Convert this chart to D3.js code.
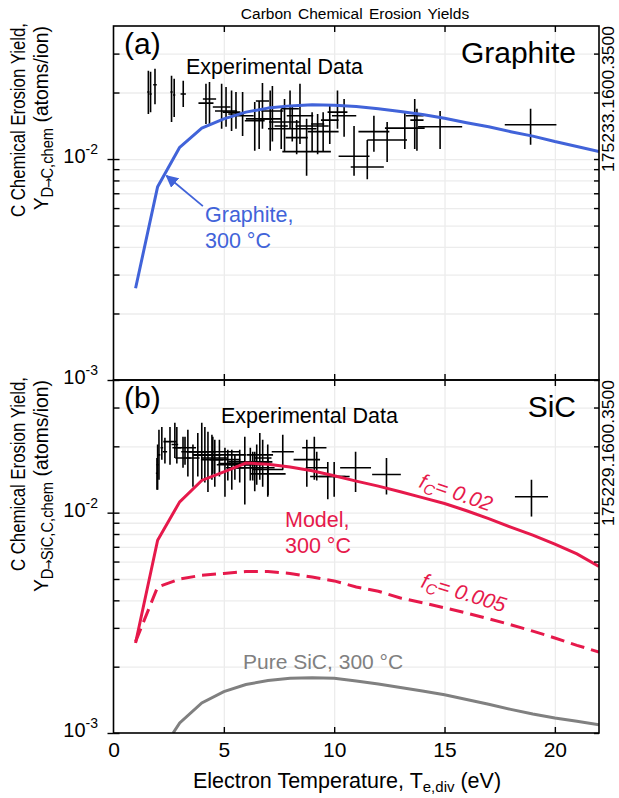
<!DOCTYPE html>
<html><head><meta charset="utf-8">
<script src="https://cdn.jsdelivr.net/npm/d3@7"></script>
<style>body{margin:0;background:#fff} svg{display:block;font-family:"Liberation Sans",Arial,sans-serif}</style>
</head><body>
<svg id="c" width="619" height="798"></svg>
<script>
// ---------------- data ----------------
const modelT = [1,2,3,4,5,6,7,8,9,10,11,12,13,14,15,16,17,18,19,20,21,22];
const graphiteModel = [0.0026,0.0075,0.0113,0.0138,0.0152,0.0163,0.0170,0.0174,0.0176,0.0175,0.0173,0.0169,0.0164,0.0159,0.0153,0.0146,0.0140,0.0133,0.0127,0.0120,0.0114,0.0108];
const sicModel002 = [0.00256,0.0075,0.0112,0.0140,0.0153,0.0168,0.0166,0.0161,0.0155,0.0147,0.0139,0.0132,0.01245,0.0117,0.0110,0.0102,0.0094,0.0086,0.0079,0.0072,0.0065,0.0057];
const sicModel0005 = [0.0026,0.0046,0.0050,0.0052,0.0053,0.0054,0.0054,0.0053,0.0051,0.0049,0.0046,0.0044,0.0041,0.0039,0.0037,0.0035,0.0033,0.0031,0.0029,0.0027,0.0025,0.00233];
const pureSiCT = [2.7,3,4,5,6,7,8,9,10,11,12,13,14,15,16,17,18,19,20,21,22];
const pureSiCModel = [0.00100,0.00111,0.00137,0.00154,0.00166,0.00173,0.00177,0.00178,0.00177,0.00172,0.00167,0.00161,0.00155,0.00149,0.00142,0.00135,0.00128,0.00122,0.00117,0.00113,0.00109];

// experimental points: [Te, dTe, Y, Ylow, Yhigh]
const graphiteExp = [
 [1.58,0.05,0.0201,0.0160,0.0251],[1.68,0.05,0.0197,0.0163,0.0248],[1.88,0.08,0.0217,0.0177,0.0256],
 [2.63,0.05,0.0201,0.0147,0.0238],[2.75,0.05,0.0195,0.0155,0.0231],[3.16,0.12,0.0197,0.0172,0.0226],
 [4.19,0.34,0.0179,0.0144,0.0219],[4.35,0.30,0.0187,0.0141,0.0223],[4.9,0.4,0.0172,0.0137,0.0219],
 [5.1,0.5,0.0165,0.0140,0.0212],[5.35,0.4,0.0163,0.0134,0.0204],[5.55,0.35,0.0160,0.0137,0.0201],
 [5.85,0.5,0.0157,0.0127,0.0201],[6.4,0.45,0.0149,0.0109,0.0181],[6.6,0.6,0.0152,0.0111,0.0183],
 [6.75,0.3,0.0183,0.0137,0.0221],[7.1,0.5,0.0152,0.0109,0.0204],[7.2,0.5,0.0165,0.0120,0.0214],
 [7.6,0.3,0.0141,0.0111,0.0169],[7.75,0.7,0.0147,0.0108,0.0187],[8.0,0.4,0.0169,0.0137,0.0204],
 [8.1,1.1,0.0137,0.0120,0.0174],[8.3,0.5,0.0125,0.0105,0.0150],[8.45,0.6,0.0157,0.0117,0.0219],
 [8.75,1.1,0.0108,0.0084,0.0152],[9.0,0.75,0.0141,0.0108,0.0163],[9.25,0.3,0.0144,0.0105,0.0160],
 [9.5,0.7,0.0133,0.0108,0.0163],[9.8,0.4,0.0150,0.0117,0.0174],[10.15,0.45,0.0163,0.0137,0.0204],
 [10.45,0.55,0.0157,0.0126,0.0187],[10.9,0.7,0.0103,0.0084,0.0141],[11.5,0.75,0.0092,0.0081,0.0122],
 [11.8,0.7,0.0133,0.0108,0.0157],[12.4,0.9,0.0122,0.0097,0.0147],[13.2,0.9,0.0138,0.0111,0.0163],
 [13.65,0.4,0.0157,0.0111,0.0187],[13.75,0.3,0.0150,0.0109,0.0169],[14.8,1.0,0.0140,0.0111,0.0165],
 [18.9,1.17,0.0143,0.0116,0.0169]
];
const sicExp = [
 [1.97,0.05,0.0151,0.0127,0.0177],[2.0,0.05,0.0165,0.0127,0.0204],[2.06,0.06,0.0183,0.0141,0.0238],
 [2.19,0.06,0.0197,0.0174,0.0245],[2.33,0.1,0.0189,0.0167,0.0219],[2.56,0.3,0.0210,0.0165,0.0245],
 [2.78,0.15,0.0204,0.0177,0.0256],[2.87,0.2,0.0197,0.0167,0.0245],[3.15,0.35,0.0177,0.0160,0.0221],
 [3.24,0.5,0.0197,0.0165,0.0221],[3.37,0.3,0.0189,0.0146,0.0238],[3.6,0.3,0.0177,0.0131,0.0204],
 [3.82,0.4,0.0189,0.0146,0.0230],[4.0,0.4,0.0183,0.0141,0.0256],[4.14,0.5,0.0189,0.0137,0.0245],
 [4.28,0.6,0.0183,0.0124,0.0233],[4.46,0.5,0.0174,0.0141,0.0226],[4.5,1.2,0.0189,0.0150,0.0221],
 [4.59,0.6,0.0177,0.0131,0.0214],[4.8,1.2,0.0183,0.0146,0.0214],[5.05,0.7,0.0174,0.0118,0.0197],
 [5.18,0.5,0.0165,0.0140,0.0193],[5.36,0.6,0.0167,0.0127,0.0193],[5.5,0.4,0.0160,0.0141,0.0183],
 [5.72,0.5,0.0165,0.0137,0.0193],[5.95,0.8,0.0160,0.0109,0.0221],[6.2,1.0,0.0170,0.0140,0.0197],
 [6.31,0.4,0.0165,0.0140,0.0189],[6.4,0.9,0.0160,0.0125,0.0189],[6.49,0.5,0.0170,0.0134,0.0204],
 [6.63,0.6,0.0183,0.0141,0.0230],[6.76,0.4,0.0177,0.0131,0.0214],[6.99,0.7,0.0157,0.0118,0.0204],
 [7.0,0.8,0.0150,0.0120,0.0177],[7.67,0.5,0.0189,0.0157,0.0226],[8.76,0.6,0.0174,0.0131,0.0214],
 [9.1,0.55,0.0197,0.0141,0.0221],[9.21,0.5,0.0160,0.0140,0.0189],[9.71,0.8,0.0146,0.0115,0.0170],
 [10.0,0.7,0.0146,0.0118,0.0170],[10.97,0.7,0.0160,0.0124,0.0189],[12.37,0.65,0.0149,0.0121,0.0177],
 [18.94,0.75,0.0118,0.0096,0.0141]
];
const xTicks = [0,5,10,15,20];
const xGrid = [5,10,15,20];
const yMajor = [1e-3,1e-2];
const yMinor = [2e-3,3e-3,4e-3,5e-3,6e-3,7e-3,8e-3,9e-3,2e-2,3e-2];
const yLabels = [{v:1e-2,e:"-2"},{v:1e-3,e:"-3"}];

// ---------------- layout ----------------
const BLUE="#4163d9", RED="#e6194b", GRAY="#808080", GRID="#ececec";
const svg = d3.select("#c");
const x = d3.scaleLinear().domain([0,22]).range([113.5,599]);
const X0=x.range()[0], X1=x.range()[1];

const panels = [
  {id:"a", top:26, bottom:380, exp:graphiteExp, name:"Graphite", tag:"(a)", code:"175233.1600.3500",
   subA:"D", subB:"C,chem"},
  {id:"b", top:380, bottom:733, exp:sicExp, name:"SiC", tag:"(b)", code:"175229.1600.3500",
   subA:"D", subB:"SiC,C,chem"}
];
panels.forEach(p=>{ p.y = d3.scaleLog().domain([1e-3,0.04]).range([p.bottom,p.top]); });

// title
svg.append("text").attr("x",355).attr("y",19).attr("text-anchor","middle")
  .attr("font-size",15.5).attr("word-spacing",2).text("Carbon Chemical Erosion Yields");

panels.forEach(p=>{
  const y=p.y;
  const g = svg.append("g");
  g.append("clipPath").attr("id","clip"+p.id).append("rect")
    .attr("x",X0).attr("y",p.top).attr("width",X1-X0).attr("height",p.bottom-p.top);
  // grid
  g.append("g").call(d3.axisBottom(x).tickValues(xGrid).tickSize(p.bottom-p.top).tickFormat(""))
    .attr("transform",`translate(0,${p.top})`)
    .call(a=>{a.select(".domain").remove(); a.selectAll("line").attr("stroke",GRID).attr("stroke-width",1.3);});
  g.append("g").call(d3.axisRight(y).tickValues(yMinor.concat([1e-2])).tickSize(X1-X0).tickFormat(""))
    .attr("transform",`translate(${X0},0)`)
    .call(a=>{a.select(".domain").remove(); a.selectAll("line").attr("stroke",GRID).attr("stroke-width",1.3);});

  const plot = g.append("g").attr("clip-path",`url(#clip${p.id})`);
  // experimental crosses
  const cr = plot.append("g").attr("stroke","#000").attr("stroke-width",1.6);
  cr.selectAll("line.h").data(p.exp).join("line").attr("class","h")
    .attr("x1",d=>x(d[0]-d[1])).attr("x2",d=>x(d[0]+d[1])).attr("y1",d=>y(d[2])).attr("y2",d=>y(d[2]));
  cr.selectAll("line.v").data(p.exp).join("line").attr("class","v")
    .attr("x1",d=>x(d[0])).attr("x2",d=>x(d[0])).attr("y1",d=>y(d[3])).attr("y2",d=>y(d[4]));

  const line = d3.line().x(d=>x(d[0])).y(d=>y(d[1]));
  if(p.id==="a"){
    plot.append("path").datum(d3.zip(modelT,graphiteModel)).attr("d",line)
      .attr("fill","none").attr("stroke",BLUE).attr("stroke-width",3).attr("stroke-linejoin","round");
  } else {
    plot.append("path").datum(d3.zip(modelT,sicModel002)).attr("d",line)
      .attr("fill","none").attr("stroke",RED).attr("stroke-width",3);
    plot.append("path").datum(d3.zip(modelT,sicModel0005)).attr("d",line)
      .attr("fill","none").attr("stroke",RED).attr("stroke-width",3).attr("stroke-dasharray","14,7");
    plot.append("path").datum(d3.zip(pureSiCT,pureSiCModel)).attr("d",line)
      .attr("fill","none").attr("stroke",GRAY).attr("stroke-width",3);
  }

  // frame
  g.append("rect").attr("x",X0).attr("y",p.top).attr("width",X1-X0).attr("height",p.bottom-p.top)
    .attr("fill","none").attr("stroke","#000").attr("stroke-width",1.6);

  const tickStyle = a=>{a.select(".domain").remove(); a.selectAll("line").attr("stroke","#000").attr("stroke-width",1.4);};
  g.append("g").attr("transform",`translate(${X0},0)`)
    .call(d3.axisLeft(y).tickValues(yMajor).tickSize(6).tickFormat("")).call(tickStyle);
  g.append("g").attr("transform",`translate(${X0},0)`)
    .call(d3.axisRight(y).tickValues(yMajor.concat(yMinor)).tickSize(6).tickFormat("")).call(tickStyle);
  g.append("g").attr("transform",`translate(${X1},0)`)
    .call(d3.axisLeft(y).tickValues(yMajor.concat(yMinor)).tickSize(5).tickFormat("")).call(tickStyle);
  g.append("g").attr("transform",`translate(0,${p.top})`)
    .call(d3.axisBottom(x).tickValues(xGrid).tickSize(6).tickFormat("")).call(tickStyle);
  g.append("g").attr("transform",`translate(0,${p.bottom})`)
    .call(d3.axisTop(x).tickValues(xGrid).tickSize(6).tickFormat("")).call(tickStyle);

  // y tick labels 10^n
  yLabels.forEach(l=>{
    const t = g.append("text").attr("x",98).attr("y",y(l.v)+4).attr("text-anchor","end").attr("font-size",20);
    t.append("tspan").text("10");
    t.append("tspan").attr("font-size",14).attr("dy",-9).text(l.e);
  });

  // y axis title (two lines)
  g.append("text").attr("transform",`translate(25,${p.top-3}) rotate(-90) scale(0.8,1)`)
    .attr("text-anchor","end").attr("font-size",21).text("C Chemical Erosion Yield,");
  const ly2 = g.append("text").attr("transform",`translate(48,${p.top}) rotate(-90) scale(0.92,1)`)
    .attr("text-anchor","end").attr("font-size",21);
  ly2.append("tspan").text("Y");
  ly2.append("tspan").attr("font-size",16).attr("dy",5).text(p.subA);
  ly2.append("tspan").attr("font-size",13).attr("font-family","'DejaVu Sans',sans-serif").attr("dx",-1).text("\u2192");
  ly2.append("tspan").attr("font-size",16).attr("dx",-1).text(p.subB);
  ly2.append("tspan").attr("dy",-5).text(" (atoms/ion)");

  // right code
  g.append("text").attr("transform",`translate(614,${p.top+146}) rotate(-90)`)
    .attr("font-size",17).attr("textLength",146).attr("lengthAdjust","spacingAndGlyphs").text(p.code);

  // panel tag and name
  g.append("text").attr("x",124).attr("y",p.top+28).attr("font-size",30).text(p.tag);
  g.append("text").attr("x",576).attr("y",p.top+37).attr("text-anchor","end").attr("font-size",30).text(p.name);
});

const pa=panels[0], pb=panels[1];
// panel a annotations
svg.append("text").attr("x",186).attr("y",74).attr("font-size",21.5).text("Experimental Data");
const ann = svg.append("g").attr("fill",BLUE).attr("font-size",21.5);
ann.append("text").attr("x",205).attr("y",222).text("Graphite,");
ann.append("text").attr("x",205).attr("y",248).text("300 \u00B0C");
svg.append("defs").append("marker").attr("id","arr").attr("viewBox","0 0 10 10").attr("refX",9).attr("refY",5)
  .attr("markerWidth",7).attr("markerHeight",7).attr("orient","auto-start-reverse")
  .append("path").attr("d","M0,0 L10,5 L0,10 z").attr("fill",BLUE);
svg.append("line").attr("x1",x(4.05)).attr("y1",pa.y(0.00612)).attr("x2",x(2.4)).attr("y2",pa.y(0.0084))
  .attr("stroke",BLUE).attr("stroke-width",1.8).attr("marker-end","url(#arr)");

// panel b annotations
svg.append("text").attr("x",221).attr("y",423).attr("font-size",21.5).text("Experimental Data");
const redA = svg.append("g").attr("fill",RED).attr("font-size",21.5);
redA.append("text").attr("x",285).attr("y",527).text("Model,");
redA.append("text").attr("x",285).attr("y",553).text("300 \u00B0C");
function fLabel(xp,yp,ang,val){
  const t = redA.append("text").attr("transform",`translate(${xp},${yp}) rotate(${ang})`)
    .attr("font-style","italic").attr("font-size",21);
  t.append("tspan").text("f");
  t.append("tspan").attr("font-size",15).attr("dy",4).text("C");
  t.append("tspan").attr("dy",-4).text("= "+val);
}
fLabel(418,487,19,"0.02");
fLabel(420,587,17,"0.005");
svg.append("text").attr("x",243).attr("y",669).attr("font-size",21).attr("fill",GRAY).text("Pure SiC, 300 \u00B0C");

// x axis labels
svg.append("g").attr("transform",`translate(0,${pb.bottom})`)
  .call(d3.axisBottom(x).tickValues(xTicks).tickSize(0).tickPadding(9))
  .call(a=>{a.select(".domain").remove(); a.selectAll("text").attr("font-size",21).attr("fill","#000")
    .attr("font-family","'Liberation Sans',Arial,sans-serif");});
const xl = svg.append("text").attr("x",347).attr("y",788).attr("text-anchor","middle").attr("font-size",21.5);
xl.append("tspan").text("Electron Temperature,  T");
xl.append("tspan").attr("font-size",15).attr("dy",4).text("e,div");
xl.append("tspan").attr("dy",-4).text(" (eV)");
</script>
</body></html>
